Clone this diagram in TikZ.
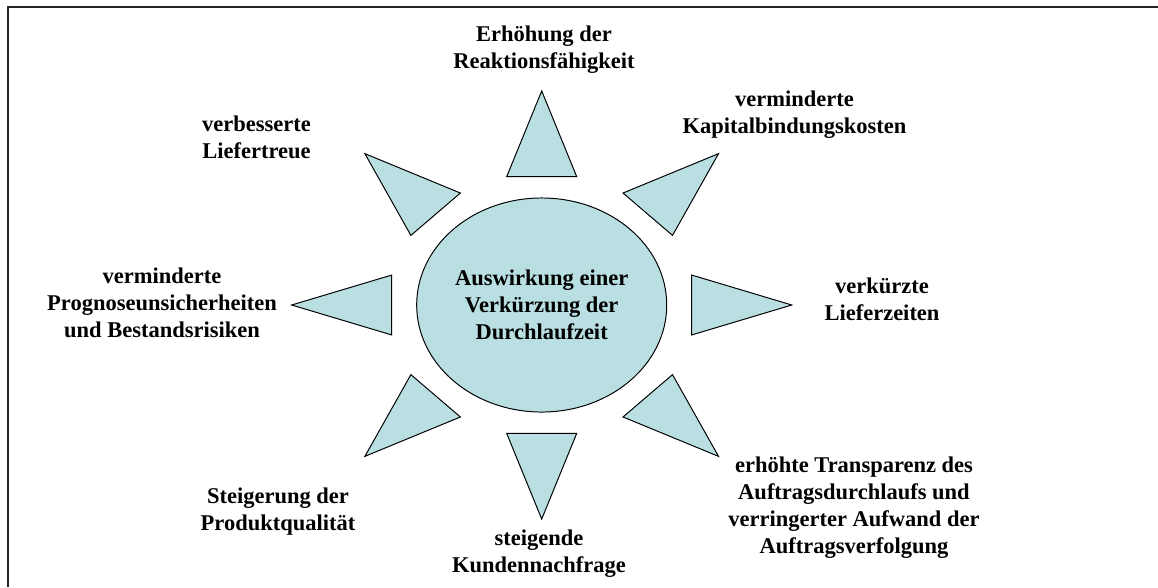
\documentclass[tikz,border=0pt]{standalone}
\usepackage{fontspec}
\setmainfont{Liberation Serif}
\usetikzlibrary{shapes.geometric}
\definecolor{sunfill}{RGB}{185,223,227}
\begin{document}
\begin{tikzpicture}[x=0.025cm, y=-0.025cm, font=\fontsize{16}{19.2}\selectfont\bfseries,
    main/.style = {draw, ellipse, fill=sunfill, line width=0.7pt, minimum width=6.25cm, minimum height=5.35cm, inner sep=0pt, align=center},
    ray/.style = {draw, fill=sunfill, line width=0.7pt},
    effect/.style = {align=center, inner sep=0pt}]
  \useasboundingbox (0,0) rectangle (1158,587);
  \draw[line width=1.3pt, black!85] (8,587) -- (8,7) -- (1158,7);
  \node[main] (c) at (541.7,305) {Auswirkung einer\\Verkürzung der\\Durchlaufzeit};
  \begin{scope}[shift={(c.center)}, x=3.125cm, y=-2.675cm]
    \foreach \a in {0,45,...,315}
      \draw[ray] (\a:2) -- (\a+13.13:1.232) -- (\a-13.13:1.232) -- cycle;
  \end{scope}
  \node[effect] (erhoehung) at (544,49.5) {Erhöhung der\\Reaktionsfähigkeit};
  \node[effect] (kapital) at (794.5,114.5) {verminderte\\Kapitalbindungskosten};
  \node[effect] (lieferzeit) at (882,299.5) {verkürzte\\Lieferzeiten};
  \node[effect] (transparenz) at (854,508) {erhöhte Transparenz des\\Auftragsdurchlaufs und\\verringerter Aufwand der\\Auftragsverfolgung};
  \node[effect] (nachfrage) at (539,554) {steigende\\Kundennachfrage};
  \node[effect] (qualitaet) at (278,512) {Steigerung der\\Produktqualität};
  \node[effect] (prognose) at (162,303) {verminderte\\Prognoseunsicherheiten\\und Bestandsrisiken};
  \node[effect] (liefertreue) at (256.5,137.5) {verbesserte\\Liefertreue};
\end{tikzpicture}
\end{document}
